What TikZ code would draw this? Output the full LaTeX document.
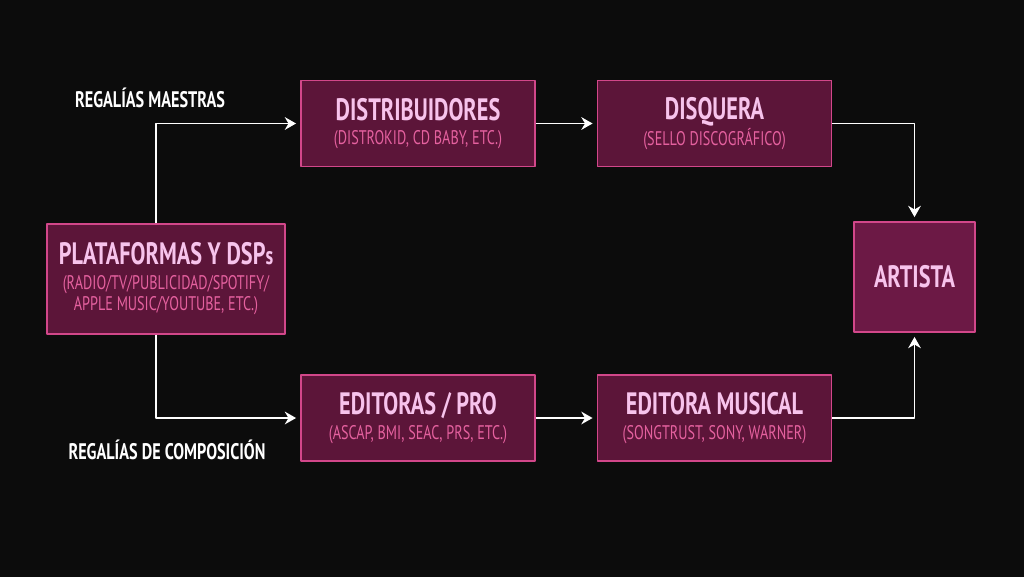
\documentclass[tikz,border=0pt]{standalone}
\usepackage{fontspec}
\setmainfont{PT Sans}[FakeStretch=0.72]
\usetikzlibrary{arrows.meta}
\definecolor{fondo}{HTML}{0C0C0C}
\definecolor{relleno}{HTML}{5C1539}
\definecolor{rellenoA}{HTML}{6C1945}
\definecolor{borde}{HTML}{D2478A}
\definecolor{titulo}{HTML}{F7C3EC}
\definecolor{subtit}{HTML}{E5619F}
\newcommand{\tit}[1]{{\fontsize{22}{24}\selectfont\bfseries\color{titulo}\rule[-5.5pt]{0pt}{16pt}#1}}
\newcommand{\subt}[1]{{\fontsize{14}{16}\selectfont\color{subtit}\rule[-2pt]{0pt}{13pt}#1}}
\begin{document}
\begin{tikzpicture}[x=0.025cm, y=-0.025cm, line join=round, >={Stealth[length=8pt,width=9pt]}]
			\def\px{0.025cm}
			\tikzset{s/.style={draw=borde,fill=relleno,line width=1pt,align=center,inner sep=0pt,minimum width=234*\px,minimum height=86*\px},
				flecha/.style={->,draw=white,line width=1.4pt,shorten >=3pt},
				regalia/.style={text=white,font=\fontsize{16}{18}\selectfont\bfseries}}
			\fill[fondo](0,0)rectangle(1024,577);
			\useasboundingbox(0,0)rectangle(1024,577);
			\path(166,279)node[s,minimum width=238*\px,minimum height=110*\px](P){\tit{PLATAFORMAS Y DSP{\fontsize{18}{20}\selectfont s}}\\\subt{(RADIO/TV/PUBLICIDAD/SPOTIFY/}\\\subt{APPLE MUSIC/YOUTUBE, ETC.)}};
			\path(418,123.5)node[s](M1){\tit{DISTRIBUIDORES}\\\subt{(DISTROKID, CD BABY, ETC.)}}
				(714.5,123.5)node[s](M2){\tit{DISQUERA}\\\subt{(SELLO DISCOGRÁFICO)}};
			\path(418,418)node[s](C1){\tit{EDITORAS / PRO}\\\subt{(ASCAP, BMI, SEAC, PRS, ETC.)}}
				(714.5,418)node[s](C2){\tit{EDITORA MUSICAL}\\\subt{(SONGTRUST, SONY, WARNER)}};
			\path(914.5,277)node[s,fill=rellenoA,minimum width=121*\px,minimum height=110*\px,text=titulo,font=\fontsize{22}{24}\selectfont\bfseries](A){ARTISTA};
			\path(150,98)node[regalia](L1){REGALÍAS MAESTRAS}
				(167,450)node[regalia](L2){REGALÍAS DE COMPOSICIÓN};
			\draw[flecha]([xshift=-10*\px]P.north)|-(M1.west);
			\draw[flecha]([xshift=-10*\px]P.south)|-(C1.west);
			\foreach \x/\y in {M1/M2,C1/C2}
			\draw[flecha](\x.east)--(\y.west);
			\draw[flecha](M2.east)-|(A.north);
			\draw[flecha](C2.east)-|(A.south);
		\end{tikzpicture}
\end{document}
